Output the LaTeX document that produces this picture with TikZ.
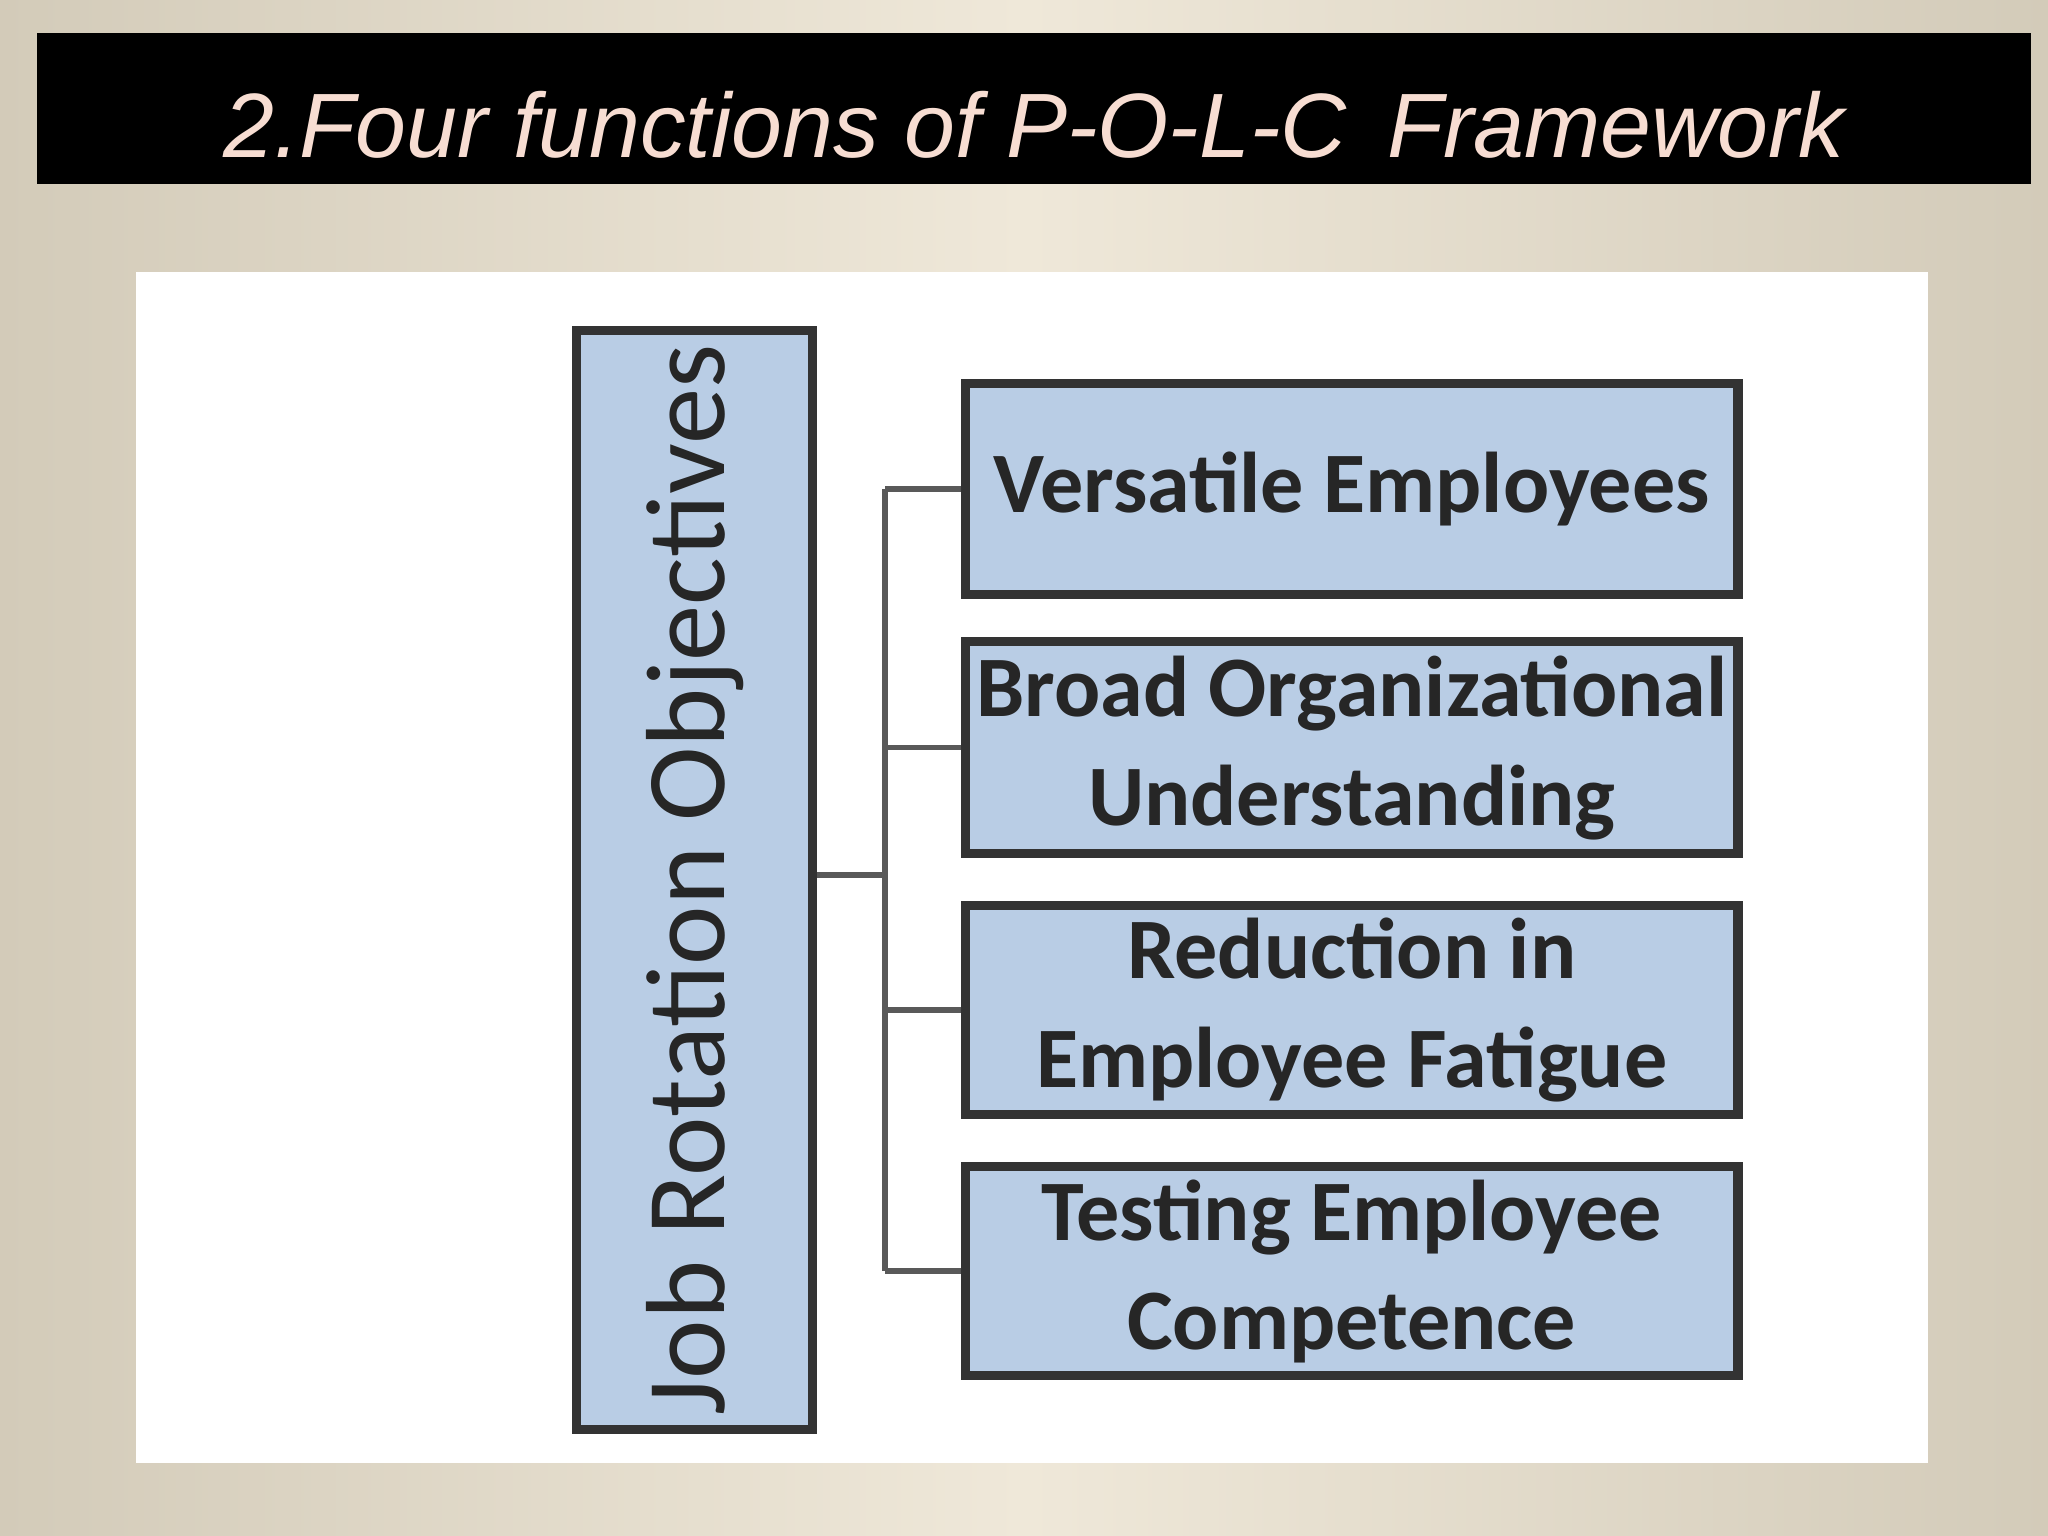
\documentclass[tikz,border=0pt]{standalone}
\usepackage{fontspec}
\setmainfont{Carlito}
\newfontfamily\titlefont{Liberation Sans}
\begin{document}
\begin{tikzpicture}[x=0.01cm,y=-0.01cm,
  objbox/.style={draw=black!80,line width=2.6pt,fill=boxblue,inner sep=0pt,align=center,font=\fontsize{24.5}{31}\selectfont\bfseries,text=black!85},
  conn/.style={draw=black!65,line width=1.6pt}]
\definecolor{boxblue}{HTML}{B9CDE5}
\definecolor{bgedge}{HTML}{D3CBB9}
\definecolor{bgmid}{HTML}{EFE8D9}
\useasboundingbox (0,0) rectangle (2048,1536);
\shade[left color=bgedge, right color=bgedge, middle color=bgmid] (0,0) rectangle (2048,1536);
\fill[black] (37,33) rectangle (2031,184);
\node (title) at (1034,125) {\titlefont\itshape\fontsize{26}{31}\selectfont\color[HTML]{F7DDD2}2.Four functions of P-O-L-C\, Framework};
\fill[white] (136,272) rectangle (1928,1463);
\node[objbox,minimum width=2.36cm,minimum height=10.98cm,anchor=north west] (main) at (572,326) {};
\node[rotate=90,font=\fontsize{32}{38}\selectfont,text=black!85] at (main.center) {Job Rotation Objectives};
\node[objbox,minimum width=7.72cm,minimum height=2.11cm,anchor=north west] (a) at (961,379) {Versatile Employees};
\node[objbox,minimum width=7.72cm,minimum height=2.12cm,anchor=north west] (b) at (961,637) {Broad Organizational\\Understanding};
\node[objbox,minimum width=7.72cm,minimum height=2.09cm,anchor=north west] (c) at (961,901) {Reduction in\\Employee Fatigue};
\node[objbox,minimum width=7.72cm,minimum height=2.09cm,anchor=north west] (d) at (961,1162) {Testing Employee\\Competence};
\coordinate (j) at (885,875);
\draw[conn] (main.east |- j) -- (j);
\draw[conn] (j |- a.west) -- (j |- d.west);
\foreach \n in {a,b,c,d} \draw[conn] (j |- \n.west) -- (\n.west);
\end{tikzpicture}
\end{document}
